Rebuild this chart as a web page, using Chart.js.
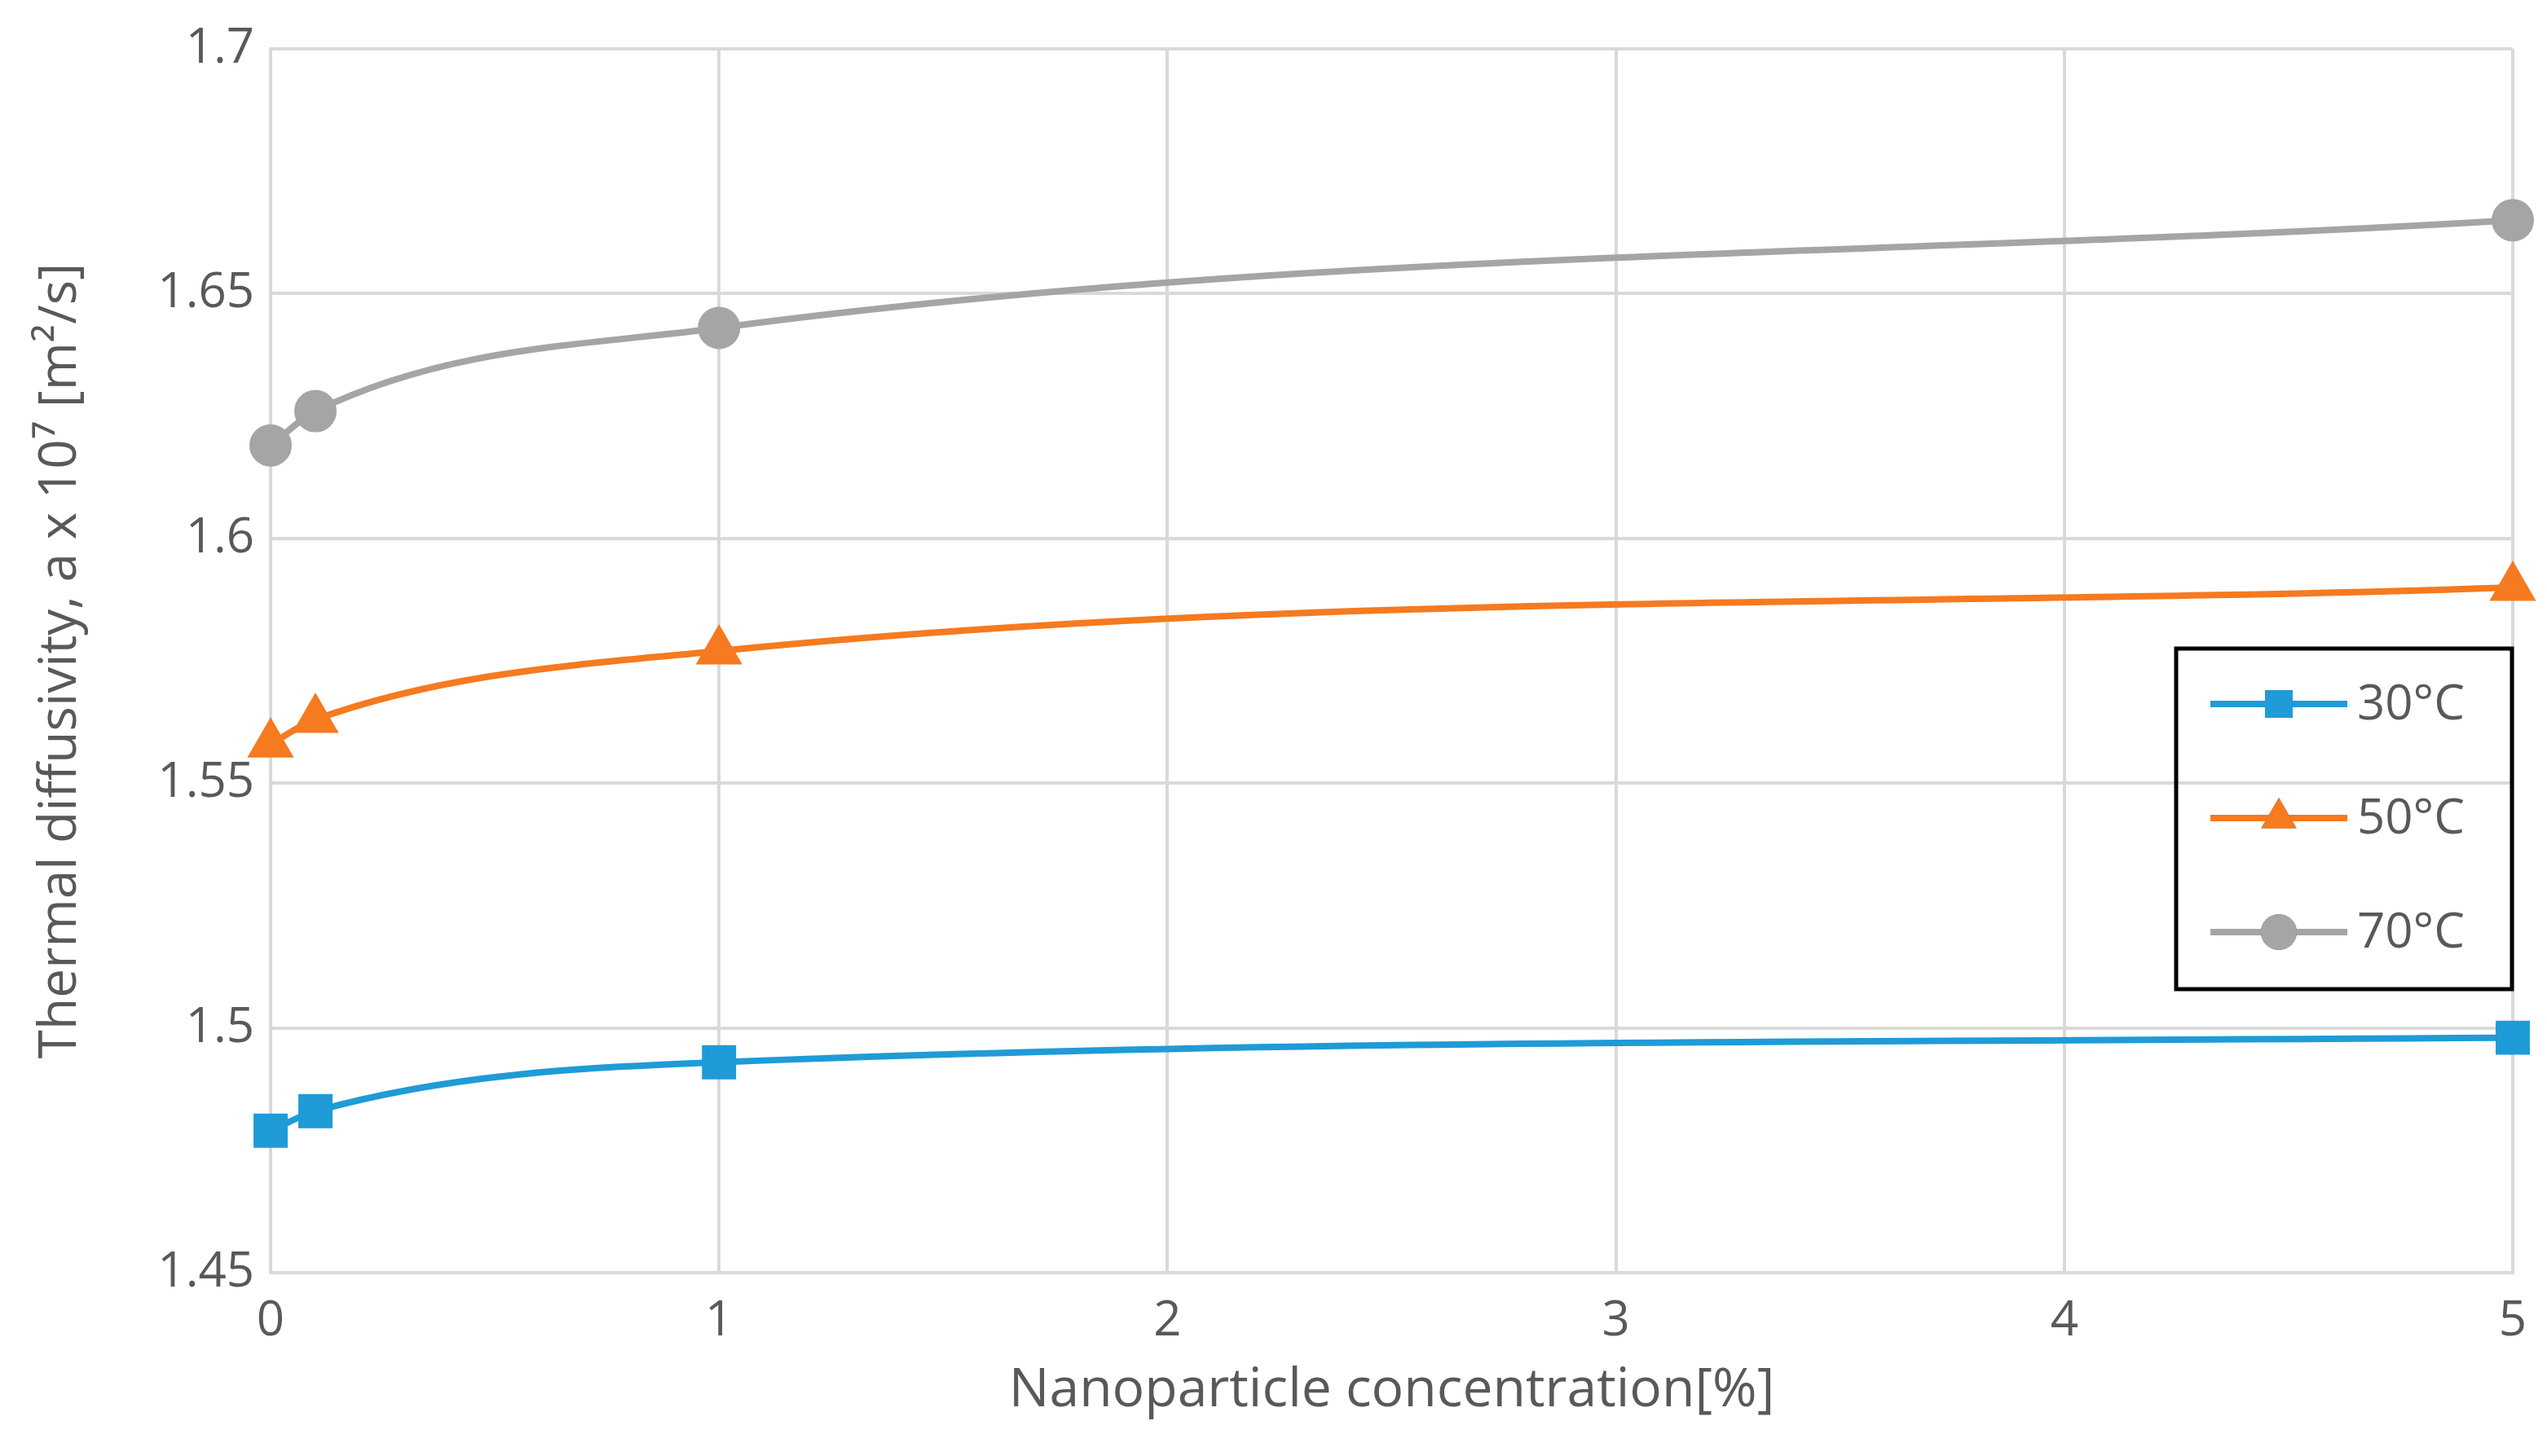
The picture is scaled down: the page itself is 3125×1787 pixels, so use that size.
<!DOCTYPE html>
<html><head><meta charset="utf-8">
<script src="https://cdn.jsdelivr.net/npm/chart.js@4"></script>
<style>html,body{margin:0;padding:0;background:#fff}#c{display:block}</style>
</head><body>
<div style="width:3125px;height:1787px"><canvas id="c" width="3125" height="1787"></canvas></div>
<script>
const xValues = [0, 0.1, 1, 5];
const s30 = [1.479, 1.483, 1.493, 1.498];
const s50 = [1.558, 1.563, 1.577, 1.590];
const s70 = [1.619, 1.626, 1.643, 1.665];
const seriesNames = ['30°C', '50°C', '70°C'];
const colors = ['#1f9bd7', '#f57a20', '#a5a5a5'];
const markers = ['rect', 'triangle', 'circle'];
const FONT = 'Open Sans, Noto Sans, sans-serif';
const pts = arr => xValues.map((x, i) => ({x, y: arr[i]}));
const datasets = [s30, s50, s70].map((d, i) => ({
  label: seriesNames[i], data: pts(d), borderColor: colors[i], backgroundColor: colors[i],
  borderWidth: 8, pointStyle: markers[i], pointRadius: i===0?24:i===1?25:22,
  cubicInterpolationMode: 'monotone', clip: false
}));
const legendPlugin = {
  id: 'boxLegend',
  afterDraw(chart) {
    const ctx = chart.ctx;
    ctx.save();
    ctx.strokeStyle = '#000'; ctx.lineWidth = 5;
    ctx.strokeRect(2670, 796, 412, 418);
    datasets.forEach((ds, i) => {
      const y = 864 + i * 140;
      ctx.strokeStyle = ds.borderColor; ctx.lineWidth = 8;
      ctx.beginPath(); ctx.moveTo(2712, y); ctx.lineTo(2880, y); ctx.stroke();
      Chart.helpers.drawPoint(ctx, {pointStyle: ds.pointStyle, radius: ds.pointRadius, rotation: 0, borderWidth: 0}, 2796, y);
      ctx.fillStyle = ds.borderColor; ctx.fill();
      ctx.fillStyle = '#595959'; ctx.font = '60px ' + FONT;
      ctx.textBaseline = 'middle'; ctx.fillText(ds.label, 2892, y + 2);
    });
    ctx.restore();
  }
};
new Chart(document.getElementById('c'), {
  type: 'line',
  data: { datasets },
  options: {
    responsive: false, animation: false, devicePixelRatio: 1,
    layout: { padding: { left: 36, top: 60, right: 42, bottom: 40 } },
    plugins: { legend: { display: false }, tooltip: { enabled: false } },
    scales: {
      x: { type: 'linear', min: 0, max: 5,
        ticks: { stepSize: 1, color: '#595959', font: { size: 60, family: FONT }, padding: 24 },
        grid: { color: '#d9d9d9', lineWidth: 4, drawTicks: false },
        border: { color: '#d9d9d9', width: 4 },
        title: { display: true, text: 'Nanoparticle concentration[%]', color: '#595959', font: { size: 66, family: FONT }, padding: 0 },
        afterFit(s) { s.height = 185; } },
      y: { min: 1.45, max: 1.7,
        ticks: { stepSize: 0.05, color: '#595959', font: { size: 60, family: FONT }, padding: 20,
          callback: v => String(parseFloat(v.toFixed(2))) },
        grid: { color: '#d9d9d9', lineWidth: 4, drawTicks: false },
        border: { color: '#d9d9d9', width: 4 },
        title: { display: true, text: 'Thermal diffusivity, a x 10⁷ [m²/s]', color: '#595959', font: { size: 64, family: FONT }, padding: 0 },
        afterFit(s) { s.width = 296; } }
    }
  },
  plugins: [legendPlugin]
});
</script>
</body></html>
